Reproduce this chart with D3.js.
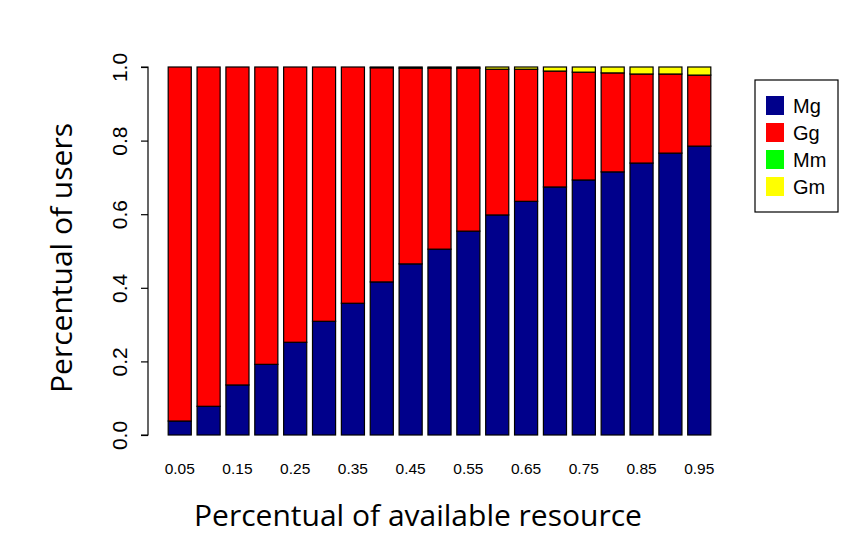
<!DOCTYPE html>
<html>
<head>
<meta charset="utf-8">
<script src="https://cdn.jsdelivr.net/npm/d3@7"></script>
<style>
  body { margin: 0; background: #fff; }
  svg { display: block; }
</style>
</head>
<body>
<script>
var categories = ["0.05","0.10","0.15","0.20","0.25","0.30","0.35","0.40","0.45","0.50",
                  "0.55","0.60","0.65","0.70","0.75","0.80","0.85","0.90","0.95"];
var tickLabels = ["0.05","0.15","0.25","0.35","0.45","0.55","0.65","0.75","0.85","0.95"];
var yTicks = [0, 0.2, 0.4, 0.6, 0.8, 1.0];

// series, bottom to top
var Mg = [0.038,0.078,0.136,0.192,0.252,0.309,0.358,0.416,0.465,0.505,
          0.554,0.598,0.635,0.674,0.693,0.715,0.739,0.766,0.785];
var Gg = [0.962,0.922,0.864,0.808,0.748,0.691,0.642,0.582,0.532,0.492,
          0.443,0.396,0.359,0.315,0.293,0.269,0.242,0.215,0.193];
var Mm = [0,0,0,0,0,0,0,0,0,0,0,0,0,0,0,0,0,0,0];
var Gm = [0,0,0,0,0,0,0,0.002,0.003,0.003,0.003,0.006,0.006,0.011,0.014,0.016,0.019,0.019,0.022];

var seriesNames = ["Mg", "Gg", "Mm", "Gm"];
var seriesColors = ["#00008B", "#FF0000", "#00FF00", "#FFFF00"];

var width = 861, height = 550;

var svg = d3.select("body").append("svg")
  .attr("width", width)
  .attr("height", height);

// build table for the stack
var table = categories.map(function(c, i) {
  return { cat: c, Mg: Mg[i], Gg: Gg[i], Mm: Mm[i], Gm: Gm[i] };
});
var stacked = d3.stack().keys(seriesNames)(table);

var x = d3.scaleBand()
  .domain(categories)
  .range([165.3, 713.7])
  .paddingInner(0.2)
  .paddingOuter(0.1);

var y = d3.scaleLinear()
  .domain([0, 1])
  .range([435, 67]);

var color = d3.scaleOrdinal().domain(seriesNames).range(seriesColors);

// bars
svg.append("g")
  .selectAll("g")
  .data(stacked)
  .enter()
  .append("g")
  .attr("fill", function(d) { return color(d.key); })
  .selectAll("rect")
  .data(function(d) { return d; })
  .enter()
  .append("rect")
  .attr("x", function(d) { return x(d.data.cat); })
  .attr("width", x.bandwidth())
  .attr("y", function(d) { return y(d[1]); })
  .attr("height", function(d) { return y(d[0]) - y(d[1]); })
  .attr("stroke", "#000")
  .attr("stroke-width", 1.2);

// y axis
var yAxis = svg.append("g")
  .attr("transform", "translate(148,0)")
  .call(d3.axisLeft(y).tickValues(yTicks).tickFormat(d3.format(".1f")).tickSize(7));
yAxis.select(".domain").attr("stroke", "#000").attr("stroke-width", 1.2)
  .attr("d", "M-7," + y(1) + "H0V" + y(0) + "H-7");
yAxis.selectAll(".tick line").attr("stroke", "#000").attr("stroke-width", 1.2);
yAxis.selectAll(".tick text")
  .attr("font-family", "'Liberation Sans', Arial, sans-serif")
  .attr("font-size", 21)
  .attr("fill", "#000")
  .attr("x", 0)
  .attr("dy", 0)
  .attr("transform", "translate(-21,0) rotate(-90)")
  .attr("text-anchor", "middle");

// x tick labels (every other bar)
svg.append("g")
  .selectAll("text")
  .data(tickLabels)
  .enter()
  .append("text")
  .attr("x", function(d) { return x(d) + x.bandwidth() / 2; })
  .attr("y", 474)
  .attr("text-anchor", "middle")
  .attr("font-family", "'Liberation Sans', Arial, sans-serif")
  .attr("font-size", 15.5)
  .text(function(d) { return d; });

// axis titles
svg.append("text")
  .attr("x", 418)
  .attr("y", 526)
  .attr("text-anchor", "middle")
  .attr("font-family", "'Open Sans', sans-serif")
  .attr("font-size", 30)
  .text("Percentual of available resource");

svg.append("text")
  .attr("transform", "translate(72,258) rotate(-90)")
  .attr("text-anchor", "middle")
  .attr("font-family", "'Open Sans', sans-serif")
  .attr("font-size", 30)
  .text("Percentual of users");

// legend
var legend = svg.append("g").attr("transform", "translate(755,80)");
legend.append("rect")
  .attr("width", 83)
  .attr("height", 132)
  .attr("fill", "#fff")
  .attr("stroke", "#000")
  .attr("stroke-width", 1.2);

var items = legend.selectAll(".item")
  .data(seriesNames)
  .enter()
  .append("g")
  .attr("class", "item")
  .attr("transform", function(d, i) { return "translate(0," + (16 + i * 27) + ")"; });

items.append("rect")
  .attr("x", 11)
  .attr("width", 18)
  .attr("height", 19)
  .attr("fill", function(d) { return color(d); });

items.append("text")
  .attr("x", 38)
  .attr("y", 17)
  .attr("font-family", "'Liberation Sans', Arial, sans-serif")
  .attr("font-size", 20)
  .text(function(d) { return d; });
</script>
</body>
</html>
